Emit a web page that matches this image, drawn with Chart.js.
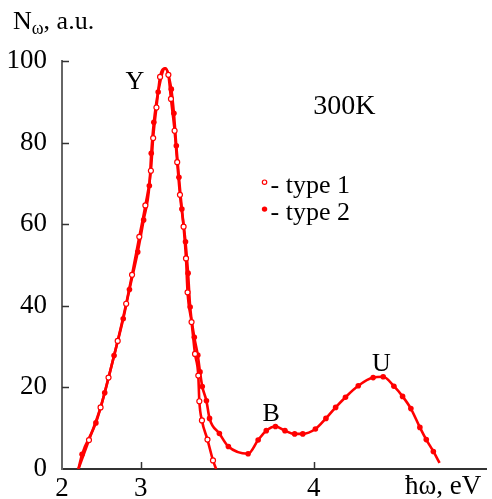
<!DOCTYPE html>
<html>
<head>
<meta charset="utf-8">
<script src="https://cdn.jsdelivr.net/npm/chart.js@4.4.1/dist/chart.umd.min.js"></script>
<style>
  html, body { margin: 0; padding: 0; background: #fff; }
  #wrap { width: 492px; height: 499px; }
</style>
</head>
<body>
<div id="wrap"><canvas id="spectrum" width="492" height="499"></canvas></div>
<script>
'use strict';

// ── Data ──────────────────────────────────────────────────────
const type1X = [2.700, 2.767, 2.813, 2.866, 2.915, 2.949, 2.991, 3.026, 3.058, 3.071, 3.090, 3.111, 3.159,
                3.174, 3.195, 3.210, 3.226, 3.247, 3.261, 3.270, 3.293, 3.313, 3.332, 3.338, 3.353, 3.385, 3.417];
const type1Y = [7.1, 15.1, 22.4, 31.4, 40.5, 47.6, 56.9, 64.6, 73.1, 81.1, 88.6, 96.1, 96.6,
                90.7, 82.9, 75.2, 67.2, 59.4, 51.6, 43.3, 36.0, 28.2, 22.9, 16.6, 11.9, 7.2, 2.1];

const type2X = [2.660, 2.740, 2.791, 2.845, 2.898, 2.934, 2.982, 3.016, 3.049, 3.060, 3.075, 3.100,
                3.176, 3.191, 3.205, 3.220, 3.237, 3.258, 3.273, 3.285, 3.309, 3.329, 3.342, 3.355, 3.379, 3.397,
                3.454, 3.506, 3.620, 3.678, 3.725, 3.778, 3.833, 3.889, 3.936, 4.009, 4.070, 4.126, 4.183,
                4.257, 4.343, 4.401, 4.463, 4.513, 4.561, 4.613, 4.650, 4.691];
const type2Y = [3.6, 11.3, 18.7, 27.8, 36.8, 44.0, 53.2, 61.0, 69.4, 77.4, 85.0, 92.4,
                93.1, 87.2, 79.2, 71.5, 63.7, 55.7, 48.0, 39.7, 32.3, 27.9, 23.8, 20.2, 16.7, 12.4,
                8.7, 5.5, 3.75, 7.1, 9.4, 10.4, 9.4, 8.6, 8.6, 9.8, 12.4, 15.1, 17.6,
                20.4, 22.4, 22.6, 20.3, 17.8, 14.8, 10.2, 7.2, 4.3];

// fitted curves: ends and top of the Y peak (no markers there)
const curve1ExtraX = [2.639, 3.140, 3.435];
const curve1ExtraY = [0, 98.2, 0];
const curve2ExtraX = [2.639, 3.140, 4.727];
const curve2ExtraY = [0, 98.2, 1.5];

const xAxisStart  = 2.544;        // broken axis: origin is labelled "2"
const xAxisEnd    = 5.0;
const xTickValues = [3, 4];
const xStartLabel = '2';
const yTickValues = [20, 40, 60, 80, 100];

const peakLabels = [
    { text: 'Y',    x: 2.966, y: 94.9 },
    { text: '300K', x: 4.177, y: 88.7 },
    { text: 'B',    x: 3.754, y: 13.5 },
    { text: 'U',    x: 4.391, y: 25.7 }
];

// ── Helpers ───────────────────────────────────────────────────
const RED   = '#ff0000';
const SERIF = '"Liberation Serif", "Times New Roman", serif';

const toPoints = (xs, ys) => xs.map((x, i) => ({ x, y: ys[i] }));
const curve    = (xs, ys, ex, ey) => toPoints(xs.concat(ex), ys.concat(ey)).sort((a, b) => a.x - b.x);

const decorPlugin = {
    id: 'decor',
    afterDraw(chart) {
        const { ctx, chartArea: ca, scales: { x, y } } = chart;
        ctx.save();

        // inward tick marks
        ctx.strokeStyle = '#333';
        ctx.lineWidth = 1.5;
        yTickValues.forEach(v => {
            const py = Math.round(y.getPixelForValue(v)) + 0.5;
            ctx.beginPath(); ctx.moveTo(ca.left, py); ctx.lineTo(ca.left + 7, py); ctx.stroke();
        });
        xTickValues.forEach(v => {
            const px = Math.round(x.getPixelForValue(v)) + 0.5;
            ctx.beginPath(); ctx.moveTo(px, ca.bottom); ctx.lineTo(px, ca.bottom - 7); ctx.stroke();
        });

        ctx.fillStyle = '#000';
        ctx.textBaseline = 'middle';
        ctx.textAlign = 'center';
        peakLabels.forEach(l => {
            ctx.font = (l.text.length > 1 ? 28 : 26) + 'px ' + SERIF;
            ctx.fillText(l.text, x.getPixelForValue(l.x), y.getPixelForValue(l.y));
        });

        // legend
        const lx = x.getPixelForValue(3.715);
        const ly1 = y.getPixelForValue(70.3), ly2 = y.getPixelForValue(63.7);
        ctx.lineWidth = 1.2;
        ctx.strokeStyle = RED;
        ctx.fillStyle = '#fff';
        ctx.beginPath(); ctx.arc(lx, ly1, 2.2, 0, Math.PI * 2); ctx.fill(); ctx.stroke();
        ctx.fillStyle = RED;
        ctx.beginPath(); ctx.arc(lx, ly2, 2.7, 0, Math.PI * 2); ctx.fill();
        ctx.fillStyle = '#000';
        ctx.textAlign = 'left';
        ctx.font = '26px ' + SERIF;
        ctx.fillText('- type 1', lx + 6, ly1 + 4);
        ctx.fillText('- type 2', lx + 6, ly2 + 4);

        // axis titles
        ctx.textBaseline = 'alphabetic';
        ctx.font = '26px ' + SERIF;
        ctx.fillText('N', 13, 29);
        const nW = ctx.measureText('N').width;
        ctx.font = '18px ' + SERIF;
        ctx.fillText('ω', 13 + nW, 34);
        const wW = ctx.measureText('ω').width;
        ctx.font = '26px ' + SERIF;
        ctx.fillText(', a.u.', 13 + nW + wW, 29);

        ctx.font = '27px ' + SERIF;
        ctx.fillText('ħω, eV', 405, 494);
        ctx.restore();
    }
};

// ── Chart ─────────────────────────────────────────────────────
new Chart(document.getElementById('spectrum').getContext('2d'), {
    type: 'line',
    data: {
        datasets: [
            { label: 'type 1', data: toPoints(type1X, type1Y), showLine: false, order: 0,
              pointRadius: 2.5, pointBorderWidth: 1.2, pointBackgroundColor: '#fff', pointBorderColor: RED },
            { label: 'type 2', data: toPoints(type2X, type2Y), showLine: false, order: 0,
              pointRadius: 2.8, pointBorderWidth: 0, pointBackgroundColor: RED, pointBorderColor: RED },
            { label: 'fit 1', data: curve(type1X, type1Y, curve1ExtraX, curve1ExtraY), order: 1,
              borderColor: RED, borderWidth: 2.6, pointRadius: 0, cubicInterpolationMode: 'monotone' },
            { label: 'fit 2', data: curve(type2X, type2Y, curve2ExtraX, curve2ExtraY), order: 1,
              borderColor: RED, borderWidth: 2.6, pointRadius: 0, cubicInterpolationMode: 'monotone' }
        ]
    },
    options: {
        responsive: false, animation: false, devicePixelRatio: 1,
        layout: { padding: { left: 0, right: 0, top: 61, bottom: 0 } },
        plugins: { legend: { display: false }, tooltip: { enabled: false } },
        scales: {
            x: {
                type: 'linear', min: xAxisStart, max: xAxisEnd,
                grid: { display: false },
                border: { display: true, color: '#333', width: 2 },
                afterBuildTicks: s => { s.ticks = [{ value: xAxisStart }].concat(xTickValues.map(v => ({ value: v }))); },
                afterFit: s => { s.height = 30; },
                ticks: {
                    padding: -4, color: '#000', font: { family: SERIF, size: 27 }, maxRotation: 0,
                    callback: v => v === xAxisStart ? xStartLabel : String(v)
                }
            },
            y: {
                min: 0, max: 100,
                grid: { display: false },
                border: { display: true, color: '#666', width: 2 },
                afterFit: s => { s.width = 62; },
                ticks: { stepSize: 20, padding: 7, color: '#000', font: { family: SERIF, size: 27 } }
            }
        }
    },
    plugins: [decorPlugin]
});
</script>
</body>
</html>
